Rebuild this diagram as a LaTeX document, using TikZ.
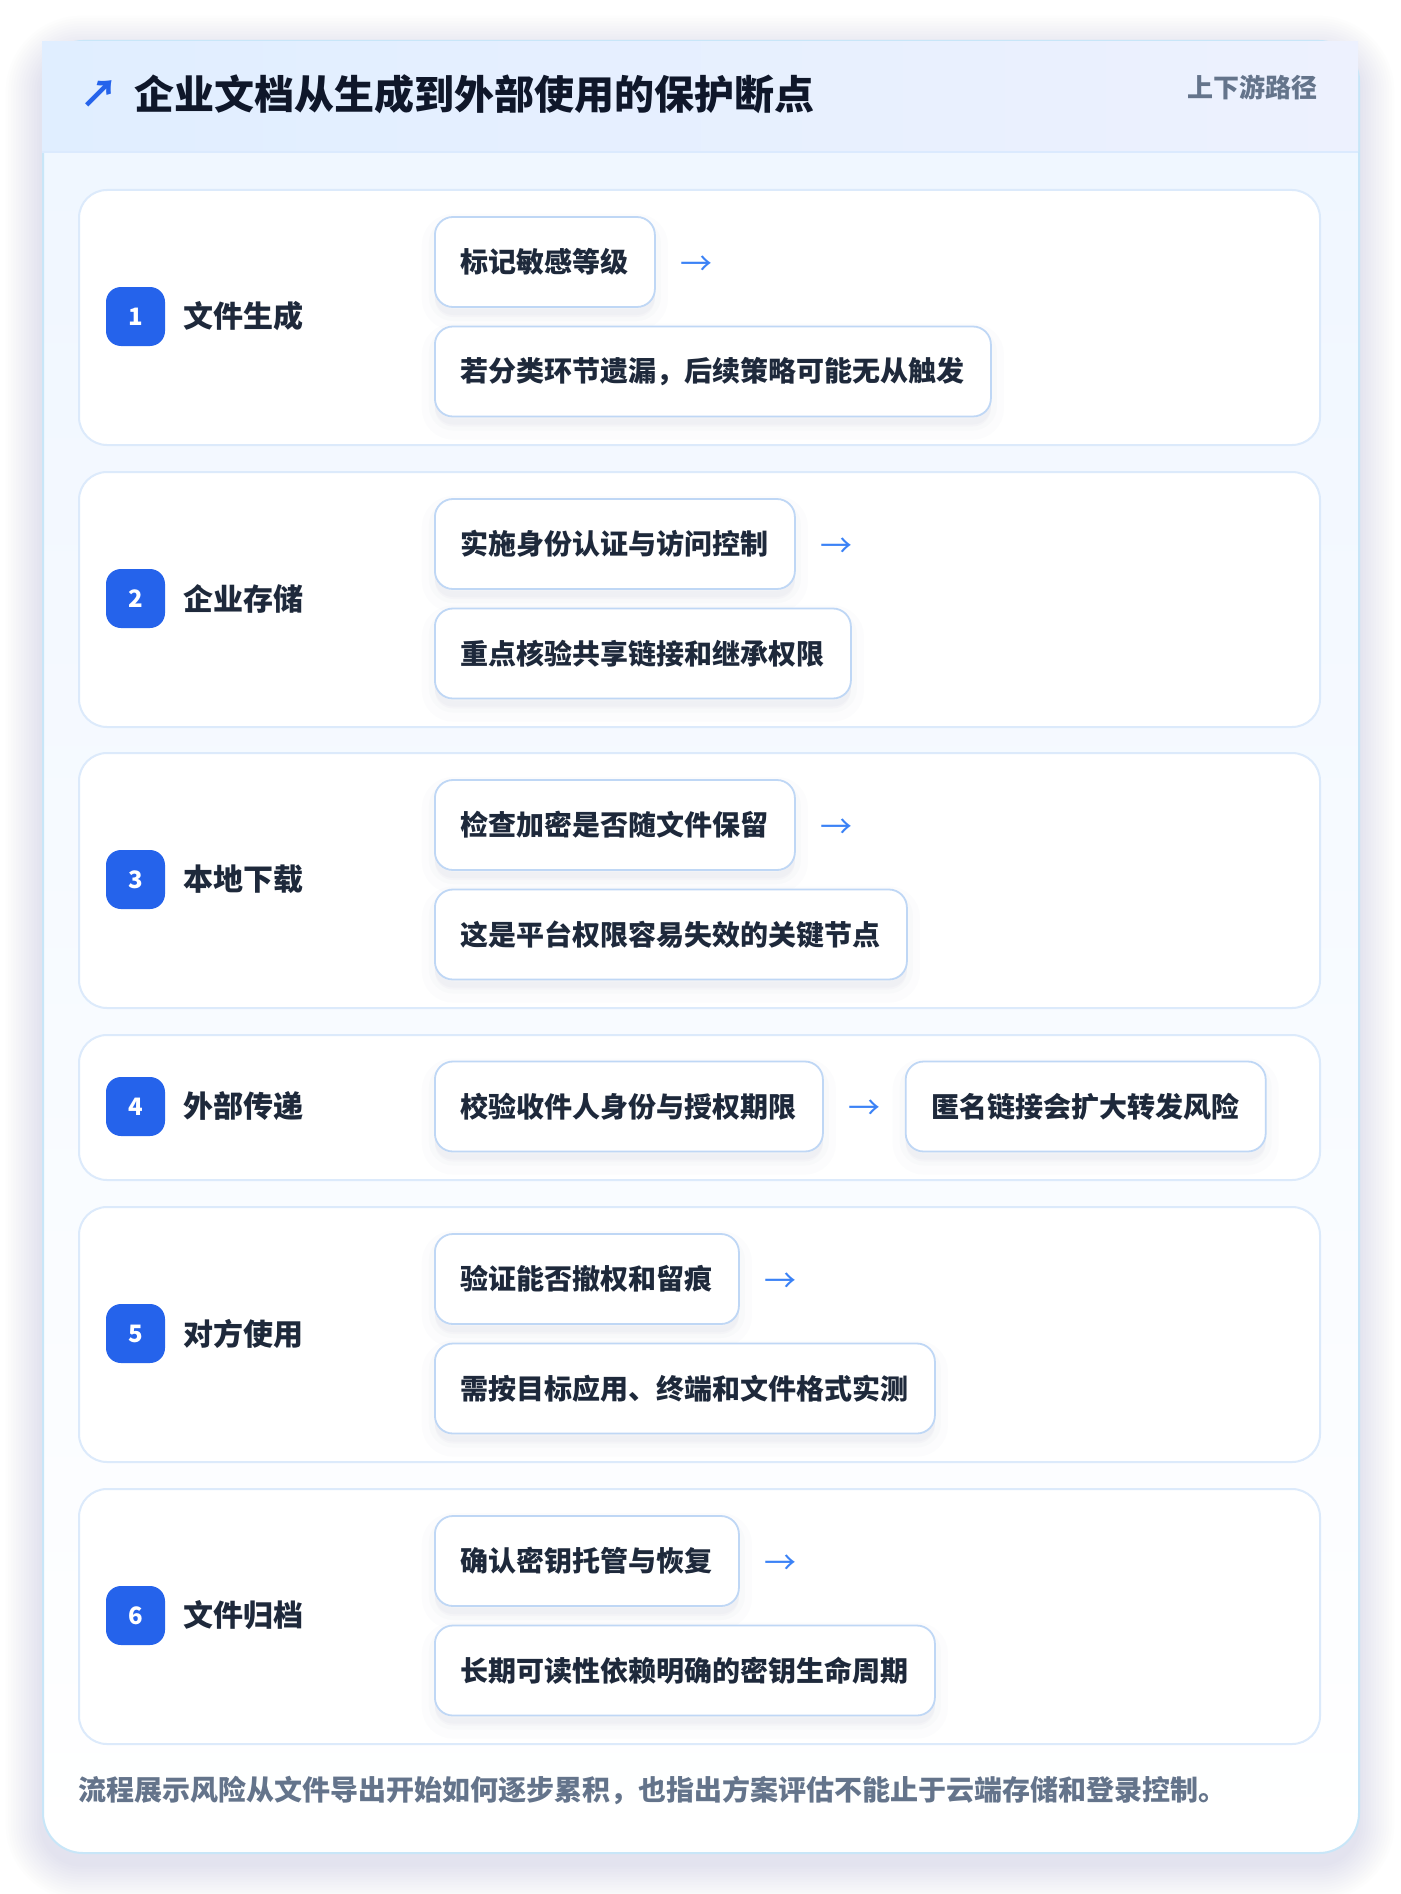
\documentclass[tikz,border=0pt]{standalone}
\usepackage{fontspec}
\setmainfont{Noto Sans CJK SC}
\usetikzlibrary{calc}
\definecolor{pagebg}{HTML}{FFFFFF}
\definecolor{cardborder}{HTML}{C8E6F8}
\definecolor{cardtop}{HTML}{EFF6FF}
\definecolor{hdrleft}{HTML}{E0EEFF}
\definecolor{hdrright}{HTML}{EDF1FE}
\definecolor{hdrline}{HTML}{DBEAFE}
\definecolor{rowborder}{HTML}{DCEAFB}
\definecolor{pillborder}{HTML}{BFD7F5}
\definecolor{ink}{HTML}{1E293B}
\definecolor{titleink}{HTML}{0F172A}
\definecolor{muted}{HTML}{64748B}
\definecolor{badgeblue}{HTML}{2563EB}
\definecolor{arrowblue}{HTML}{3B82F6}
\definecolor{shadowcol}{HTML}{7C8CA6}
\newcommand\fsz[1]{\fontsize{#1}{#1}\selectfont}
\tikzset{
  cardbox/.style={draw=cardborder, line width=2pt, rounded corners=40pt, top color=cardtop, bottom color=white, anchor=north west, inner sep=0pt},
  hdrbox/.style={left color=hdrleft, right color=hdrright, anchor=north west, inner sep=0pt, draw=none},
  rowbox/.style={draw=rowborder, line width=2pt, rounded corners=28pt, fill=white, anchor=north west, inner sep=0pt, minimum width=1241pt},
  pill/.style={draw=pillborder, line width=1.8pt, rounded corners=18pt, fill=white, anchor=west, minimum height=90pt, inner xsep=26pt, inner ysep=0pt,
    font=\bfseries\fsz{28}, text=ink,
    preaction={fill=shadowcol, fill opacity=0.035, draw=shadowcol, draw opacity=0.018, line width=26pt, transform canvas={yshift=-10pt}},
    preaction={fill=shadowcol, fill opacity=0.035, draw=shadowcol, draw opacity=0.025, line width=12pt, transform canvas={yshift=-8pt}}},
  badge/.style={fill=badgeblue, rounded corners=15pt, minimum size=59pt, inner sep=0pt, text=white, font=\bfseries\fsz{24}},
  steplabel/.style={anchor=west, inner sep=0pt, font=\bfseries\fsz{30}, text=ink},
  arrowtxt/.style={inner sep=0pt, text=arrowblue, font=\fsz{32}},
}
\begin{document}
\begin{tikzpicture}[x=1pt,y=-1pt]
\useasboundingbox (0,0) rectangle (1400,1894);
\fill[pagebg] (0,0) rectangle (1400,1894);
% soft outer shadow of the card
\foreach \k in {1,...,14}{
  \fill[shadowcol, opacity=0.010, rounded corners=40pt+2.6*\k pt]
    ($(42,52)+(-2.6*\k,-2.6*\k)$) rectangle ($(1358,1864)+(2.6*\k,2.6*\k)$);
}
% card
\node[cardbox, minimum width=1316pt, minimum height=1812pt] (card) at (42,40) {};
\node[hdrbox, minimum width=1316pt, minimum height=110pt] (hdr) at (42,41.5) {};
\draw[hdrline, line width=2pt] (hdr.south west) -- (hdr.south east);
\node[inner sep=0pt, text=badgeblue, font=\bfseries\fsz{38}] (hicon) at (99,94) {↗};
\node[anchor=west, inner sep=0pt, text=titleink, font=\bfseries\fsz{40}] (title) at (134,94) {企业文档从生成到外部使用的保护断点};
\node[anchor=east, inner sep=0pt, text=muted, font=\bfseries\fsz{26}] (tag) at (1318,87) {上下游路径};
% row 1
\node[rowbox, minimum height=255pt] (r1) at (78,189) {};
\node[badge] (b1) at (135.5,316.5) {1};
\node[steplabel] (l1) at (183,316.5) {文件生成};
\node[pill] (p1a) at (434,262) {标记敏感等级};
\node[pill] (p1b) at (434,371.5) {若分类环节遗漏，后续策略可能无从触发};
\node[arrowtxt] (a1) at ($(p1a.east)+(41,3.5)$) {→};
% row 2
\node[rowbox, minimum height=255pt] (r2) at (78,471) {};
\node[badge] (b2) at (135.5,598.5) {2};
\node[steplabel] (l2) at (183,598.5) {企业存储};
\node[pill] (p2a) at (434,544) {实施身份认证与访问控制};
\node[pill] (p2b) at (434,653.5) {重点核验共享链接和继承权限};
\node[arrowtxt] (a2) at ($(p2a.east)+(41,3.5)$) {→};
% row 3
\node[rowbox, minimum height=255pt] (r3) at (78,752) {};
\node[badge] (b3) at (135.5,879.5) {3};
\node[steplabel] (l3) at (183,879.5) {本地下载};
\node[pill] (p3a) at (434,825) {检查加密是否随文件保留};
\node[pill] (p3b) at (434,934.5) {这是平台权限容易失效的关键节点};
\node[arrowtxt] (a3) at ($(p3a.east)+(41,3.5)$) {→};
% row 4
\node[rowbox, minimum height=145pt] (r4) at (78,1034) {};
\node[badge] (b4) at (135.5,1106.5) {4};
\node[steplabel] (l4) at (183,1106.5) {外部传递};
\node[pill] (p4a) at (434,1106.5) {校验收件人身份与授权期限};
\node[arrowtxt] (a4) at ($(p4a.east)+(41,3.5)$) {→};
\node[pill] (p4b) at ($(p4a.east)+(81,0)$) {匿名链接会扩大转发风险};
% row 5
\node[rowbox, minimum height=255pt] (r5) at (78,1206) {};
\node[badge] (b5) at (135.5,1333.5) {5};
\node[steplabel] (l5) at (183,1333.5) {对方使用};
\node[pill] (p5a) at (434,1279) {验证能否撤权和留痕};
\node[pill] (p5b) at (434,1388.5) {需按目标应用、终端和文件格式实测};
\node[arrowtxt] (a5) at ($(p5a.east)+(41,3.5)$) {→};
% row 6
\node[rowbox, minimum height=255pt] (r6) at (78,1488) {};
\node[badge] (b6) at (135.5,1615.5) {6};
\node[steplabel] (l6) at (183,1615.5) {文件归档};
\node[pill] (p6a) at (434,1561) {确认密钥托管与恢复};
\node[pill] (p6b) at (434,1670.5) {长期可读性依赖明确的密钥生命周期};
\node[arrowtxt] (a6) at ($(p6a.east)+(41,3.5)$) {→};
% footer
\node[anchor=west, inner sep=0pt, text=muted, font=\bfseries\fsz{28}] (foot) at (78,1790) {流程展示风险从文件导出开始如何逐步累积，也指出方案评估不能止于云端存储和登录控制。};
\end{tikzpicture}
\end{document}
